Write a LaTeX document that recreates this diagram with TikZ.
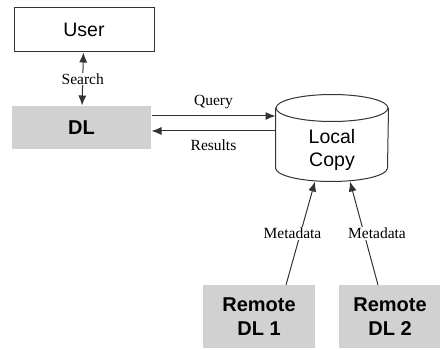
\documentclass[tikz,border=0pt]{standalone}
\usepackage{fontspec}
\setmainfont{Liberation Serif}
\setsansfont{Liberation Sans}
\usetikzlibrary{arrows.meta, positioning}
\tikzstyle{block}=[draw,rectangle,font=\sffamily\fontsize{19.5}{23}\selectfont]
\tikzstyle{shaded}=[rectangle,fill=black!18,align=center,
  font=\sffamily\bfseries\fontsize{20}{24}\selectfont]
\tikzstyle{tag}=[fill=white,inner sep=1pt,font=\fontsize{15.5}{18}\selectfont]

\begin{document}
\begin{tikzpicture}[x=1pt,y=-1pt,>={Latex[length=10pt,width=8pt]},inner sep=0mm,line width=1pt,draw=black!80]
  \useasboundingbox (0,0) rectangle (440,350);
  \node[block, minimum width=140pt, minimum height=44pt] (user) at (84,30) {User};
  \node[shaded, minimum width=139pt, minimum height=43pt] (dl) at (81.5,127.5) {DL};
  % the local copy store
  \node[minimum width=112pt, minimum height=86pt] (copy) at (332,138) {};
  \draw ([yshift=-13.5pt]copy.north) ellipse [x radius=56pt, y radius=13.5pt];
  \draw ([yshift=-13.5pt]copy.north west) -- ([yshift=13.5pt]copy.south west)
    arc[start angle=180, end angle=360, x radius=56pt, y radius=13.5pt]
    -- ([yshift=-13.5pt]copy.north east);
  \node[align=center, font=\sffamily\fontsize{19.5}{23}\selectfont] (copytext) at (332,150) {Local\\Copy};
  \node[shaded, minimum width=112pt, minimum height=63pt] (remote1) at (259,317) {Remote\\DL 1};
  \node[shaded, minimum width=102pt, minimum height=63pt, right=23pt of remote1] (remote2) {Remote\\DL 2};
  \draw[<->] (user) -- node[tag] (search) {Search} (dl);
  \draw[->] (dl.east |- 0,116) -- node[above=7pt,font=\fontsize{15.5}{18}\selectfont] (query) {Query} (copy.west |- 0,116);
  \draw[<-] (dl.east |- 0,131) -- node[below=8pt,font=\fontsize{15.5}{18}\selectfont] (results) {Results} (copy.west |- 0,131);
  \draw[->] (remote1.north -| 286,0) -- node[tag, xshift=-8pt] (meta1) {Metadata} (copy.south -| 315,0);
  \draw[->] (remote2.north -| 378,0) -- node[tag, xshift=13pt] (meta2) {Metadata} (copy.south -| 350,0);
\end{tikzpicture}
\end{document}
